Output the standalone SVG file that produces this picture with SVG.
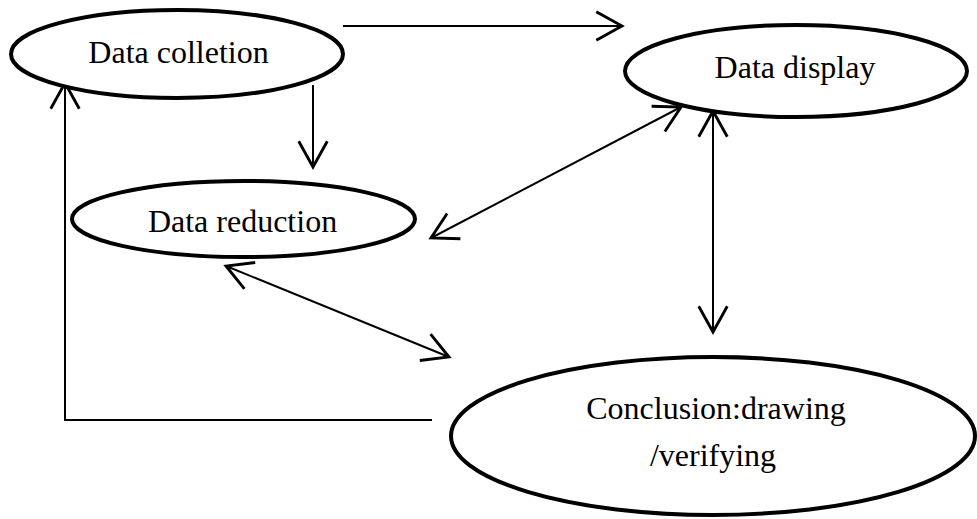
<svg xmlns="http://www.w3.org/2000/svg" width="977" height="519" viewBox="0 0 977 519">
<style>
.node ellipse{fill:#fff;stroke:#000;stroke-width:4}
.node text{font-family:"Liberation Serif","Times New Roman",serif;font-size:32px;fill:#000;text-anchor:middle}
.conn line,.conn polyline{fill:none;stroke:#000;stroke-width:2}
</style>
<defs>
<marker id="ah" markerUnits="userSpaceOnUse" markerWidth="40" markerHeight="40" refX="0" refY="0" viewBox="-22 -14 26 28" orient="auto-start-reverse" overflow="visible">
<path d="M-18,-10 L0,0 L-18,10" fill="none" stroke="#000" stroke-width="2"/>
</marker>
</defs>
<rect width="977" height="519" fill="#fff"/>
<g class="conn">
<line x1="343" y1="26" x2="622" y2="26" marker-end="url(#ah)"/>
<line x1="313" y1="85" x2="313" y2="167" marker-end="url(#ah)"/>
<line x1="681" y1="107" x2="431" y2="238" marker-start="url(#ah)" marker-end="url(#ah)"/>
<line x1="713" y1="111" x2="713" y2="332" marker-start="url(#ah)" marker-end="url(#ah)"/>
<line x1="226" y1="266" x2="449" y2="357" marker-start="url(#ah)" marker-end="url(#ah)"/>
<polyline points="432,420 65,420 65,83" marker-end="url(#ah)"/>
</g>
<g id="collection" class="node">
<ellipse cx="177" cy="54" rx="166" ry="44"/>
<text x="178.5" y="63">Data colletion</text>
</g>
<g id="display" class="node">
<ellipse cx="796" cy="71" rx="171" ry="46"/>
<text x="795" y="78">Data display</text>
</g>
<g id="reduction" class="node">
<ellipse cx="243.5" cy="219" rx="171.5" ry="38"/>
<text x="242.5" y="232">Data reduction</text>
</g>
<g id="conclusion" class="node">
<ellipse cx="713" cy="436" rx="262" ry="79"/>
<text x="716" y="419">Conclusion:drawing</text>
<text x="713" y="466">/verifying</text>
</g>
</svg>
